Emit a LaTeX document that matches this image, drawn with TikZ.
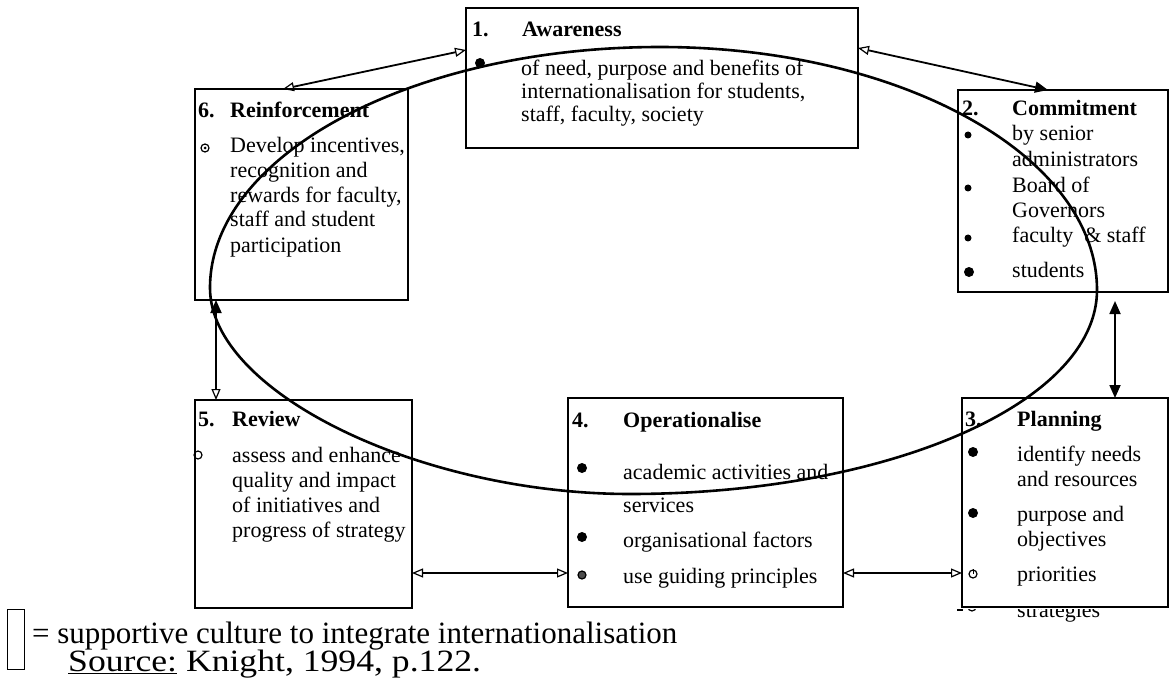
\documentclass[tikz,border=0pt]{standalone}
\usepackage{fontspec}
\setmainfont{Liberation Serif}
\usetikzlibrary{arrows.meta,calc}
\begin{document}
\begin{tikzpicture}[x=1pt,y=-1pt,
  box/.style={draw, line width=2.6pt, rectangle, anchor=north west, inner sep=0pt, outer sep=0pt},
  txt/.style={anchor=base west, inner sep=0pt, font=\fontsize{22}{25}\selectfont},
  hd/.style={anchor=base west, inner sep=0pt, font=\fontsize{22}{25}\selectfont\bfseries},
  leg/.style={anchor=base west, inner sep=0pt, font=\fontsize{31}{31}\selectfont},
  bul/.style={circle, fill, inner sep=0pt, minimum size=10pt},
  sbul/.style={circle, fill, inner sep=0pt, minimum size=7pt},
  obul/.style={circle, draw, line width=1.2pt, inner sep=0pt, minimum size=8pt},
  ell/.style={line width=2.6pt},
  conn/.style={line width=1.8pt},
  oo/.style={conn, arrows={Triangle[open,length=11pt,width=9pt,line width=1.2pt]}-{Triangle[open,length=11pt,width=9pt,line width=1.2pt]}},
  of/.style={conn, arrows={Triangle[open,length=11pt,width=9pt,line width=1.2pt]}-{Triangle[length=13pt,width=11pt]}},
  fo/.style={conn, arrows={Triangle[length=13pt,width=11pt]}-{Triangle[open,length=11pt,width=9pt,line width=1.2pt]}},
  ff/.style={conn, arrows={Triangle[length=13pt,width=11pt]}-{Triangle[length=13pt,width=11pt]}}
]
\useasboundingbox (0,0) rectangle (1170,679);

% boxes
\node[box, minimum width=392pt, minimum height=140pt] (b1) at (466,8) {};
\node[box, minimum width=213pt, minimum height=211pt] (b6) at (195,89) {};
\node[box, minimum width=210pt, minimum height=202pt] (b2) at (958,90) {};
\node[box, minimum width=217pt, minimum height=208pt] (b5) at (195,400) {};
\node[box, minimum width=275pt, minimum height=209pt] (b4) at (568,398) {};
\node[box, minimum width=206pt, minimum height=209pt] (b3) at (962,398) {};

% box 1
\node[hd] (n1) at (472,37) {1.};
\node[hd] (h1) at (522,37) {Awareness};
\node[bul] (u1) at (480,63) {};
\node[txt] (t1a) at (521,76) {of need, purpose and benefits of};
\node[txt] (t1b) at (521,99) {internationalisation for students,};
\node[txt] (t1c) at (521,122) {staff, faculty, society};

% box 6
\node[hd] (n6) at (198,118) {6.};
\node[hd] (h6) at (230,118) {Reinforcement};
\node[obul] (u6) at (205,148) {};
\fill (u6) circle (1.5pt);
\node[txt] (t6a) at (230,153) {Develop incentives,};
\node[txt] (t6b) at (230,178) {recognition and};
\node[txt] (t6c) at (230,203) {rewards for faculty,};
\node[txt] (t6d) at (230,227) {staff and student};
\node[txt] (t6e) at (230,252) {participation};

% box 2
\node[hd] (n2) at (962,116) {2.};
\node[hd] (h2) at (1012,116) {Commitment};
\node[sbul] (u2a) at (968,135) {};
\node[txt] (t2a) at (1012,141) {by senior};
\node[txt] (t2b) at (1012,167) {administrators};
\node[sbul] (u2b) at (968,188) {};
\node[txt] (t2c) at (1012,193) {Board of};
\node[txt] (t2d) at (1012,218) {Governors};
\node[sbul] (u2c) at (968,238) {};
\node[txt] (t2e) at (1012,243) {faculty\ \ \& staff};
\node[bul] (u2d) at (969,272) {};
\node[txt] (t2f) at (1012,277) {students};

% box 3
\node[hd] (n3) at (965,426) {3.};
\node[hd] (h3) at (1017,426) {Planning};
\node[bul] (u3a) at (973,452) {};
\node[txt] (t3a) at (1017,461) {identify needs};
\node[txt] (t3b) at (1017,486) {and resources};
\node[bul] (u3b) at (973,513) {};
\node[txt] (t3c) at (1017,521) {purpose and};
\node[txt] (t3d) at (1017,546) {objectives};
\node[obul] (u3c) at (973,574) {};
\draw[line width=1pt] (u3c.center) -- (u3c.north);
\node[txt] (t3e) at (1017,581) {priorities};
\begin{scope}
  \clip (940,609.5) rectangle (1170,679);
  \node[txt] (t3f) at (1017,617) {strategies};
  \node[obul] (u3d) at (972,607) {};
\end{scope}
\draw[line width=1.2pt] (957,610) -- (963,610);

% box 4
\node[hd] (n4) at (572,427) {4.};
\node[hd] (h4) at (623,427) {Operationalise};
\node[bul] (u4a) at (582,468) {};
\node[txt] (t4a) at (623,479) {academic activities and};
\node[txt] (t4b) at (623,512) {services};
\node[bul] (u4b) at (582,537) {};
\node[txt] (t4c) at (623,547) {organisational factors};
\node[obul, fill=black!70] (u4c) at (582,575) {};
\node[txt] (t4d) at (623,583) {use guiding principles};

% box 5
\node[hd] (n5) at (198,426) {5.};
\node[hd] (h5) at (232,426) {Review};
\node[obul] (u5) at (198,455) {};
\node[txt] (t5a) at (232,462) {assess and enhance};
\node[txt] (t5b) at (232,487) {quality and impact};
\node[txt] (t5c) at (232,512) {of initiatives and};
\node[txt] (t5d) at (232,537) {progress of strategy};

% hand-drawn ellipse (supportive culture)
\draw[ell] (660,47) .. controls (901,47) and (1097,156) .. (1097,290)
  .. controls (1097,403) and (888,494) .. (630,494)
  .. controls (420,494) and (210,392) .. (210,288)
  .. controls (210,155) and (412,47) .. cycle;

% connectors
\draw[oo] ([xshift=88pt]b6.north west) -- ([yshift=-42pt]b1.north west);
\draw[of] ([yshift=-40pt]b1.north east) -- ([xshift=90pt]b2.north west);
\draw[ff] ([xshift=157pt,yshift=-9pt]b2.south west) -- ([xshift=153pt]b3.north west);
\draw[fo] ([xshift=21pt]b6.south west) -- ([xshift=21pt]b5.north west);
\draw[oo] ([yshift=-173pt]b5.north east) -- ([yshift=-175pt]b4.north west);
\draw[oo] ([yshift=-175pt]b4.north east) -- ([yshift=-175pt]b3.north west);

% legend
\node[draw, line width=1.2pt, rectangle, anchor=north west, inner sep=0pt, minimum width=17pt, minimum height=60pt] (lg) at (7,609) {};
\node[leg] (lt1) at (32,643) {= supportive culture to integrate internationalisation};
\node[leg] (lt2) at (68,671) {\scalebox{1.15}[1]{\underline{Source:} Knight, 1994, p.122.}};
\end{tikzpicture}
\end{document}
